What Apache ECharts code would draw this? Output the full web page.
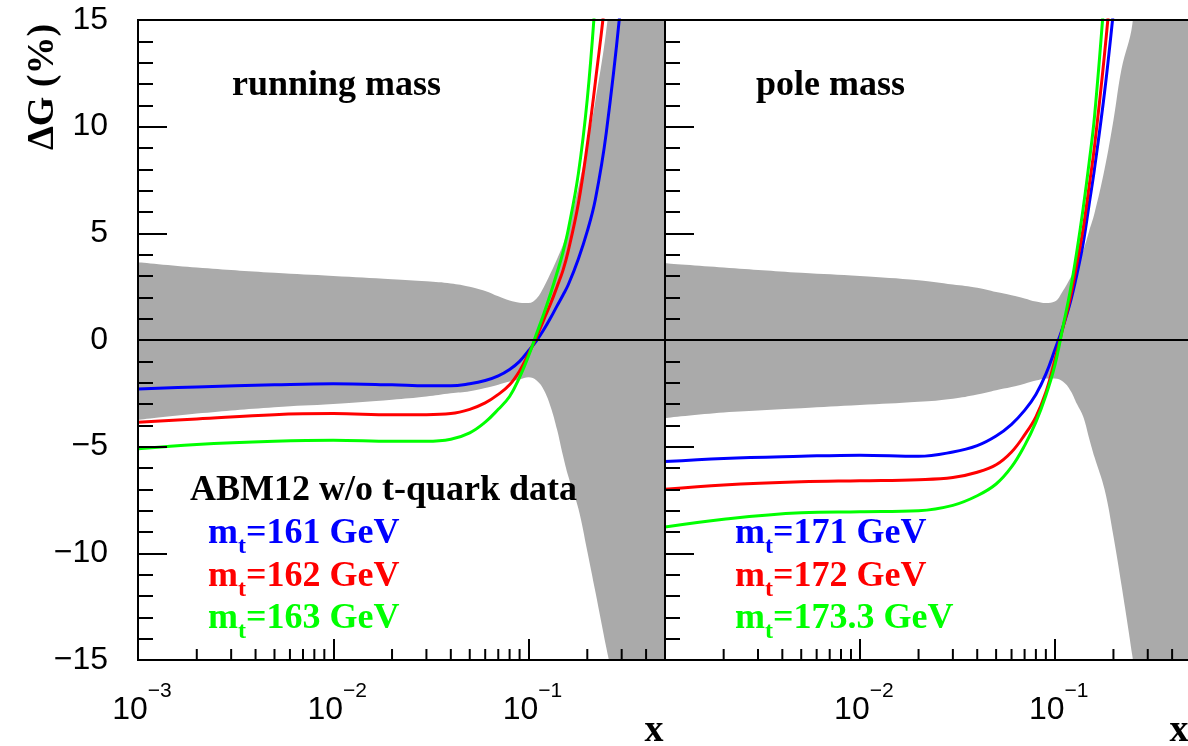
<!DOCTYPE html>
<html>
<head>
<meta charset="utf-8">
<script src="https://cdn.jsdelivr.net/npm/echarts@6.0.0/dist/echarts.min.js"></script>
<style>
  html, body { margin: 0; padding: 0; background: #fff; }
  #chart { width: 1188px; height: 746px; }
</style>
</head>
<body>
<div id="chart"></div>
<script>
// Momentum fraction x (shared sampling for all curves and bands)
const xValues = [0.001, 0.002, 0.005, 0.01, 0.02, 0.03, 0.04, 0.05, 0.06, 0.07, 0.08, 0.09, 0.1,
                 0.11, 0.12, 0.13, 0.14, 0.15, 0.16, 0.18, 0.2, 0.22, 0.25, 0.3, 0.4, 0.5];

// Running mass: PDF uncertainty band (%)
const bandUpperRunning = [3.65, 3.4, 3.15, 3.0, 2.85, 2.75, 2.65, 2.5, 2.3, 2.05, 1.85, 1.75, 1.73,
                          1.95, 2.5, 3.15, 3.8, 4.45, 5.25, 7.15, 9.15, 11.2, 14.5, 21, 33, 45];
const bandLowerRunning = [-3.75, -3.45, -3.15, -3.0, -2.8, -2.65, -2.5, -2.4, -2.25, -2.1, -1.95, -1.85, -1.75,
                          -1.9, -2.35, -3.15, -4.2, -5.4, -6.4, -7.9, -9.9, -11.8, -14.4, -18, -30, -40];
// Running mass: ΔG for m_t = 161, 162, 163 GeV
const running161 = [-2.3, -2.2, -2.1, -2.05, -2.1, -2.15, -2.15, -2.05, -1.9, -1.68, -1.38, -1.0, -0.5,
                    -0.03, 0.5, 1.05, 1.6, 2.1, 2.6, 3.8, 5.1, 6.6, 9.7, 16.2, 30, 45];
const running162 = [-3.85, -3.7, -3.5, -3.45, -3.5, -3.5, -3.45, -3.25, -2.95, -2.55, -2.1, -1.45, -0.65,
                    0.15, 0.97, 1.72, 2.5, 3.25, 4.2, 6.4, 9.15, 12.1, 16.6, 27, 45, 60];
const running163 = [-5.1, -4.9, -4.75, -4.7, -4.75, -4.75, -4.65, -4.35, -3.85, -3.25, -2.65, -1.75, -0.75,
                    0.3, 1.25, 2.2, 3.15, 4.1, 5.2, 7.8, 11.3, 16.0, 24, 38, 60, 80];

// Pole mass: PDF uncertainty band (%)
const bandUpperPole = [3.6, 3.4, 3.15, 3.0, 2.8, 2.6, 2.45, 2.25, 2.1, 1.95, 1.8, 1.73, 1.8,
                       2.3, 2.9, 3.5, 4.2, 5.1, 5.95, 8.0, 10.3, 12.7, 14.8, 22, 33, 45];
const bandLowerPole = [-3.66, -3.4, -3.2, -3.05, -2.9, -2.75, -2.55, -2.35, -2.2, -2.05, -1.9, -1.8, -1.8,
                       -1.95, -2.35, -3.0, -3.6, -4.6, -5.5, -7.0, -9.2, -11.5, -14.8, -20, -30, -40];
// Pole mass: ΔG for m_t = 171, 172, 173.3 GeV
const pole171 = [-5.7, -5.55, -5.45, -5.4, -5.45, -5.25, -4.95, -4.5, -3.95, -3.3, -2.55, -1.6, -0.47,
                 0.6, 1.75, 3.1, 4.55, 6.35, 8.05, 11.6, 15.4, 19, 26, 40, 60, 80];
const pole172 = [-7.0, -6.8, -6.65, -6.6, -6.55, -6.45, -6.2, -5.85, -5.25, -4.45, -3.6, -2.45, -0.95,
                 0.56, 1.95, 3.6, 5.25, 7.2, 9.1, 13.4, 18, 23, 30, 45, 65, 85];
const pole173 = [-8.77, -8.4, -8.1, -8.05, -8.0, -7.75, -7.3, -6.75, -5.95, -4.95, -3.85, -2.6, -1.2,
                 0.6, 2.3, 4.2, 6.2, 8.3, 10.5, 16.2, 22, 28, 36, 50, 70, 90];

// Axis ranges and ticks
const xMin = 0.001, xMax = 0.5;
const yMin = -15, yMax = 15, yStep = 5;
const xMinorTicks = [0.002, 0.003, 0.004, 0.005, 0.006, 0.007, 0.008, 0.009,
                     0.02, 0.03, 0.04, 0.05, 0.06, 0.07, 0.08, 0.09,
                     0.2, 0.3, 0.4];

const curveColors = ['#0000ff', '#ff0000', '#00ff00'];
const bandColor = '#aaaaaa';
const SERIF = '"Liberation Serif", "Times New Roman", serif';
const SANS = '"Liberation Sans", Arial, Helvetica, sans-serif';

const panels = [
  { lower: bandLowerRunning, upper: bandUpperRunning, curves: [running161, running162, running163] },
  { lower: bandLowerPole, upper: bandUpperPole, curves: [pole171, pole172, pole173] }
];

const pairs = arr => xValues.map((x, k) => [x, arr[k]]);

function powerLabel(v) {
  const e = Math.log10(v);
  const r = Math.round(e);
  if (Math.abs(e - r) > 1e-6) return '';
  return '{b|10}{e|' + (r < 0 ? '\u2212' + (-r) : r) + '}';
}

const grids = [
  { left: 138, top: 20, width: 527, height: 640 },
  { left: 665, top: 20, width: 526, height: 640 }
].map(g => Object.assign(g, {
  show: true, borderColor: '#000', borderWidth: 2, backgroundColor: 'transparent',
  containLabel: false, outerBoundsMode: 'none', z: 15
}));

const xAxes = grids.map((g, i) => ({
  type: 'log', logBase: 10, gridIndex: i, min: xMin, max: xMax, z: 10,
  axisLine: { onZero: false, lineStyle: { color: '#000', width: 2 } },
  axisTick: { inside: true, length: 21, lineStyle: { color: '#000', width: 2 } },
  minorTick: { show: false },
  splitLine: { show: false },
  axisLabel: {
    margin: 30, showMinLabel: i === 0, showMaxLabel: false,
    padding: [0, 0, 0, 8],
    formatter: v => (i === 1 && Math.abs(v - xMin) < 1e-9) ? '' : powerLabel(v),
    rich: {
      b: { fontFamily: SANS, fontSize: 32, lineHeight: 40, color: '#000' },
      e: { fontFamily: SANS, fontSize: 21, lineHeight: 40, color: '#000', padding: [0, 0, 37, 0] }
    }
  }
}));

const yAxes = grids.map((g, i) => ({
  type: 'value', gridIndex: i, min: yMin, max: yMax, interval: yStep, z: 10,
  axisLine: { onZero: false, lineStyle: { color: '#000', width: 2 } },
  axisTick: { inside: true, length: 29, lineStyle: { color: '#000', width: 2 } },
  minorTick: { show: true, splitNumber: 5, length: 15, lineStyle: { color: '#000', width: 2 } },
  splitLine: { show: false },
  axisLabel: {
    show: i === 0, margin: 30, fontFamily: SANS, fontSize: 32, color: '#000',
    showMinLabel: true, showMaxLabel: true,
    formatter: v => (v < 0 ? '\u2212' + (-v) : String(v))
  }
}));

const series = [];
panels.forEach((p, i) => {
  // uncertainty band: grey fill below the upper edge, then white fill below the lower edge
  series.push({
    type: 'line', xAxisIndex: i, yAxisIndex: i, data: pairs(p.upper),
    symbol: 'none', smooth: 0.4, silent: true, z: 2,
    lineStyle: { opacity: 0 }, areaStyle: { color: bandColor, opacity: 1, origin: 'start' }
  });
  series.push({
    type: 'line', xAxisIndex: i, yAxisIndex: i, data: pairs(p.lower),
    symbol: 'none', smooth: 0.4, silent: true, z: 2,
    lineStyle: { opacity: 0 }, areaStyle: { color: '#ffffff', opacity: 1, origin: 'start' },
    markLine: {
      silent: true, symbol: 'none', label: { show: false },
      lineStyle: { color: '#000', type: 'solid', width: 2 },
      data: [{ yAxis: 0 }]
    }
  });
  p.curves.forEach((c, j) => {
    series.push({
      type: 'line', xAxisIndex: i, yAxisIndex: i, data: pairs(c),
      symbol: 'none', smooth: 0.4, silent: true, z: 4,
      lineStyle: { color: curveColors[j], width: 3 }
    });
  });
  // minor ticks of the logarithmic x axis
  series.push({
    type: 'custom', xAxisIndex: i, yAxisIndex: i, silent: true, z: 11,
    data: xMinorTicks.map(v => [v, yMin]),
    renderItem: (params, api) => {
      const pt = api.coord([api.value(0), api.value(1)]);
      return {
        type: 'line',
        shape: { x1: pt[0], y1: pt[1], x2: pt[0], y2: pt[1] - 11 },
        style: { stroke: '#000', lineWidth: 2 }
      };
    }
  });
});

function serifText(x, y, text, size, color) {
  return {
    type: 'text', x: x, y: y, silent: true, z: 20,
    style: {
      text: text, fill: color, font: 'bold ' + size + 'px ' + SERIF,
      align: 'left', verticalAlign: 'middle', textAlign: 'left', textVerticalAlign: 'middle'
    }
  };
}

function massLabel(x, y, color, mass) {
  const base = { fontFamily: SERIF, fontWeight: 'bold', fill: color, color: color, lineHeight: 60 };
  return {
    type: 'text', x: x, y: y, silent: true, z: 20,
    style: {
      text: '{m|m}{s|t}{m|=' + mass + ' GeV}',
      rich: {
        m: Object.assign({ fontSize: 36 }, base),
        s: Object.assign({ fontSize: 24, padding: [25, 0, 0, 0] }, base)
      },
      fill: color, align: 'left', verticalAlign: 'middle', textAlign: 'left', textVerticalAlign: 'middle'
    }
  };
}

function centeredText(x, y, text, size, rotation) {
  return {
    type: 'text', x: x, y: y, rotation: rotation || 0, silent: true, z: 20,
    style: {
      text: text, fill: '#000', font: 'bold ' + size + 'px ' + SERIF,
      align: 'center', verticalAlign: 'middle', textAlign: 'center', textVerticalAlign: 'middle'
    }
  };
}

const graphics = [
  serifText(232, 86, 'running mass', 36, '#000'),
  serifText(756, 86, 'pole mass', 36, '#000'),
  serifText(190, 491, 'ABM12 w/o t-quark data', 36, '#000'),
  massLabel(208, 534, curveColors[0], '161'),
  massLabel(208, 577, curveColors[1], '162'),
  massLabel(208, 619, curveColors[2], '163'),
  massLabel(735, 534, curveColors[0], '171'),
  massLabel(735, 577, curveColors[1], '172'),
  massLabel(735, 619, curveColors[2], '173.3'),
  centeredText(43, 87, '\u0394G (%)', 38, Math.PI / 2),
  centeredText(654, 731, 'x', 38),
  centeredText(1179, 731, 'x', 38)
];

const chart = echarts.init(document.getElementById('chart'), null, { renderer: 'canvas' });
chart.setOption({
  animation: false,
  backgroundColor: '#fff',
  grid: grids,
  xAxis: xAxes,
  yAxis: yAxes,
  series: series,
  graphic: { elements: graphics }
});
</script>
</body>
</html>
